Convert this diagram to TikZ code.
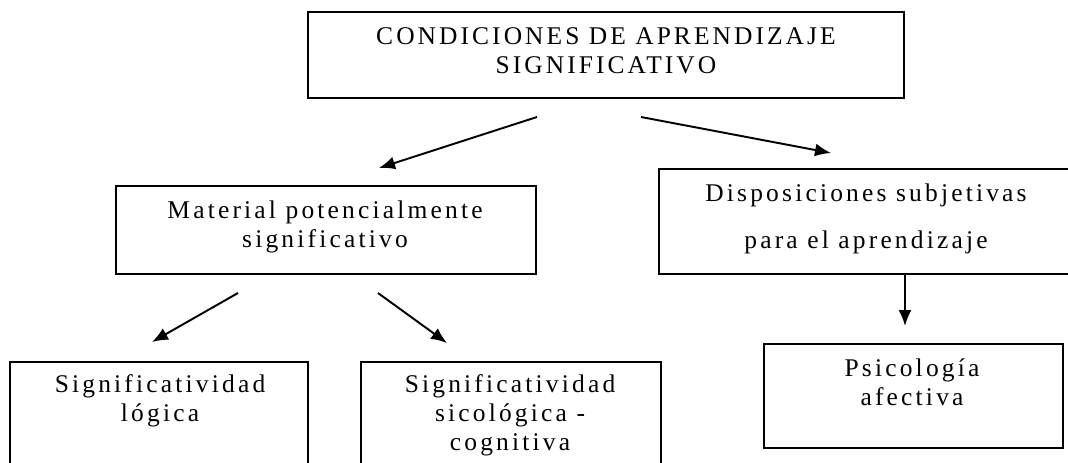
\documentclass[tikz,border=0pt]{standalone}
\usepackage{fontspec}
\setmainfont{Liberation Serif}
\newfontfamily\spacedfont[LetterSpace=12.5]{Liberation Serif}
\newfontfamily\titlefont[LetterSpace=12]{Liberation Serif}
\usetikzlibrary{arrows.meta,fit}

\tikzset{
  caja/.style={draw, line width=1pt, inner sep=0pt},
  texto/.style={align=center, anchor=base, inner sep=0pt, font=\spacedfont\fontsize{14.5}{16.5}\selectfont},
  titulo/.style={texto, font=\titlefont\fontsize{14.5}{16.5}\selectfont},
  flecha/.style={line width=1.1pt, -{Latex[length=0.32cm,width=0.26cm]}}
}

\begin{document}
\begin{tikzpicture}[x=0.02cm,y=-0.02cm]
  \clip (0,0) rectangle (1068,463);
  \fill[white] (0,0) rectangle (1068,463);

  \node[caja, fit={(308,12) (904,98)}] (cond) {};
  \node[titulo] (condt) at (606,73) {CONDICIONES DE APRENDIZAJE\\SIGNIFICATIVO};

  \node[caja, fit={(116,186) (536,274)}] (mat) {};
  \node[texto] (matt) at (325,247) {Material potencialmente\\significativo};

  \node[caja, fit={(659,169) (1072,274)}] (disp) {};
  \node[texto] (dispt) at (866,248) {Disposiciones subjetivas\\[10pt]para el aprendizaje};

  \node[caja, fit={(10,362) (308,480)}] (log) {};
  \node[texto] (logt) at (160,421) {Significatividad\\lógica};

  \node[caja, fit={(361,362) (661,480)}] (sic) {};
  \node[texto] (sict) at (510,450) {Significatividad\\sicológica -\\cognitiva};

  \node[caja, fit={(764,344) (1063,448)}] (psi) {};
  \node[texto] (psit) at (912,405) {Psicología\\afectiva};

  \coordinate (a1) at (537,117);
  \coordinate (b1) at (379,168);
  \coordinate (a2) at (641,117);
  \coordinate (b2) at (831,153);
  \coordinate (a3) at (238,293);
  \coordinate (b3) at (152,342);
  \coordinate (a4) at (378,293);
  \coordinate (b4) at (447,343);
  \coordinate (b5) at (905,326);

  \draw[flecha] (a1) -- (b1);
  \draw[flecha] (a2) -- (b2);
  \draw[flecha] (a3) -- (b3);
  \draw[flecha] (a4) -- (b4);
  \draw[flecha] (disp.south -| b5) -- (b5);
\end{tikzpicture}
\end{document}
